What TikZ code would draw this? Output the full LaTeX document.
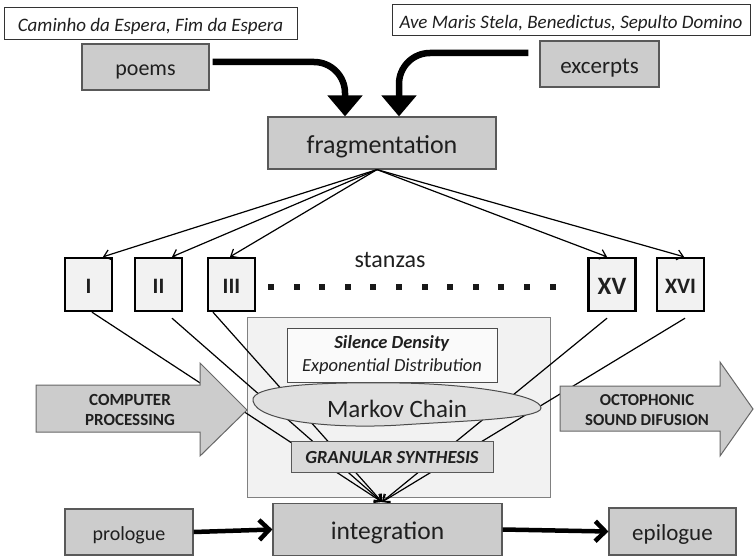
\documentclass[tikz,border=0pt]{standalone}
\usepackage{fontspec}
\setmainfont{Carlito}
\usetikzlibrary{arrows.meta,calc}
\newcommand{\fs}[1]{\fontsize{#1}{#1}\selectfont}
\tikzset{
  fnt/.style args={#1/#2/#3}{font=\fs{#1}, text height=#2pt, text depth=#3pt},
  gbox/.style={draw=black!65, line width=1.2pt, fill=black!20, text=black!88, inner sep=0pt},
  tbox/.style={draw=black!80, line width=1pt, fill=white, text=black!88, inner sep=0pt, fnt=19/17.1/1.9},
  sbox/.style={draw=black, line width=2.4pt, fill=black!5, text=black!88, inner sep=0pt, minimum width=47pt, minimum height=53pt, fnt=22/19.8/2.2},
  thinarrow/.style={line width=1.2pt, -{Straight Barb[length=6pt,width=10pt]}},
  fatarrow/.style={line width=6.5pt, rounded corners=31pt, -{Triangle[length=21pt,width=34pt]}},
  midarrow/.style={line width=4.5pt, -{Straight Barb[length=10pt,width=20pt]}},
  blockarrow/.style={draw=black!60, line width=1pt, fill=black!20},
}
\begin{document}
\begin{tikzpicture}[x=1pt,y=-1pt]
\useasboundingbox (0,0) rectangle (754,556);

% top text boxes
\node[tbox, minimum width=293pt, minimum height=32pt] (cam) at (150.5,24) {\itshape Caminho da Espera, Fim da Espera};
\node[tbox, minimum width=358pt, minimum height=31pt] (ave) at (571,20.5) {\itshape Ave Maris Stela, Benedictus, Sepulto Domino};

% sources
\node[gbox, minimum width=127pt, minimum height=46pt, fnt=22/19.8/2.2] (poems) at (145.5,67) {poems};
\node[gbox, minimum width=119pt, minimum height=46pt, fnt=23/20.7/2.3] (exc) at (599.5,64) {excerpts};
\node[gbox, minimum width=228pt, minimum height=52pt, fnt=26/23.4/2.6] (frag) at (382,143) {fragmentation};

\draw[fatarrow] ([xshift=3pt,yshift=5pt]poems.east) -| ([xshift=-37pt]frag.north);
\draw[fatarrow] ([xshift=-11pt,yshift=11pt]exc.west) -| ([xshift=17pt]frag.north);

% stanzas
\node[sbox] (s1) at (88.5,284.5) {\bfseries I};
\node[sbox] (s2) at (158.5,284.5) {\bfseries II};
\node[sbox] (s3) at (231.5,284.5) {\bfseries III};
\node[sbox, fnt=25/22.5/2.5] (s15) at (612,284.5) {\bfseries XV};
\node[sbox] (s16) at (680.5,284.5) {\bfseries XVI};
\node[fnt=24/21.6/2.4, text=black!88, inner sep=0pt] (stz) at (390,258) {stanzas};
\foreach \k in {0,...,11} \fill[black!90] ({271+\k*25.6-3},284) rectangle ++(6,6);

\draw[thinarrow] ([xshift=-5pt]frag.south) -- ([xshift=14.5pt]s1.north);
\draw[thinarrow] ([xshift=-5pt]frag.south) -- ([xshift=13.5pt]s2.north);
\draw[thinarrow] ([xshift=-5pt]frag.south) -- ([xshift=-1.5pt]s3.north);
\draw[thinarrow] ([xshift=-5pt]frag.south) -- ([xshift=-5pt]s15.north);
\draw[thinarrow] ([xshift=-5pt]frag.south) -- ([xshift=3.5pt]s16.north);

% processing area
\node[draw=black!50, fill=black!5, line width=1pt, minimum width=303pt, minimum height=180pt, inner sep=0pt] (proc) at (398.5,407) {};
\node[draw=black!70, fill=black!2, line width=1pt, minimum width=210pt, minimum height=54pt, inner sep=0pt, align=center, text=black!88, font=\fontsize{18.5}{23}\selectfont] (sil) at (392,355)
  {\textbf{\textit{Silence Density}}\\\textit{Exponential Distribution}};

\coordinate (conv) at (382,502);
\draw[thinarrow] ([xshift=3.5pt]s1.south) -- (conv);
\draw[thinarrow] ([xshift=13.5pt,yshift=-6pt]s2.south) -- (conv);
\draw[thinarrow] ([xshift=-18.5pt]s3.south) -- (conv);
\draw[thinarrow] ([xshift=-5pt,yshift=-6pt]s15.south) -- (conv);
\draw[thinarrow] ([xshift=4.5pt,yshift=-6pt]s16.south) -- (conv);

% Markov chain leaf-shaped ellipse
\draw[draw=black!70, fill=black!12, line width=1pt]
  (253,401) .. controls (249,384) and (330,382) .. (400,383)
  .. controls (470,384) and (541,395) .. (541,408)
  .. controls (541,419) and (460,421) .. (400,425)
  .. controls (336,429) and (257,422) .. (253,401) -- cycle;
\node[fnt=25/22.5/2.5, text=black!88, inner sep=0pt] (markov) at (397,407.5) {Markov Chain};

\node[draw=black!65, fill=black!15, line width=1pt, minimum width=202pt, minimum height=31pt, inner sep=0pt, text=black!88, fnt=18.5/16.65/1.85] (gran) at (392,456.5) {\bfseries\itshape GRANULAR SYNTHESIS};

% block arrows
\draw[blockarrow] (36,385) -- (200,385) -- (200,363) -- (247,410) -- (200,456) -- (200,432) -- (36,432) -- cycle;
\node[font=\fontsize{17}{20}\selectfont\bfseries, align=center, text=black!88, inner sep=0pt] (comp) at (130,410) {COMPUTER\\PROCESSING};
\draw[blockarrow] (560,386) -- (720,386) -- (720,362) -- (753,409) -- (720,456) -- (720,431) -- (560,431) -- cycle;
\node[font=\fontsize{16.7}{20}\selectfont\bfseries, align=center, text=black!88, inner sep=0pt] (octo) at (647,410) {OCTOPHONIC\\SOUND DIFUSION};

% bottom row
\node[gbox, minimum width=128pt, minimum height=46pt, fnt=20/18/2] (prol) at (129,532) {prologue};
\node[gbox, minimum width=229pt, minimum height=52pt, fnt=25.5/22.95/2.55] (integ) at (387.5,529.5) {integration};
\node[gbox, minimum width=127pt, minimum height=47pt, fnt=23/20.7/2.3] (epi) at (672.5,531.5) {epilogue};
\draw[midarrow] (prol.east) -- (integ.west);
\draw[midarrow] (integ.east) -- (epi.west);
\end{tikzpicture}
\end{document}
